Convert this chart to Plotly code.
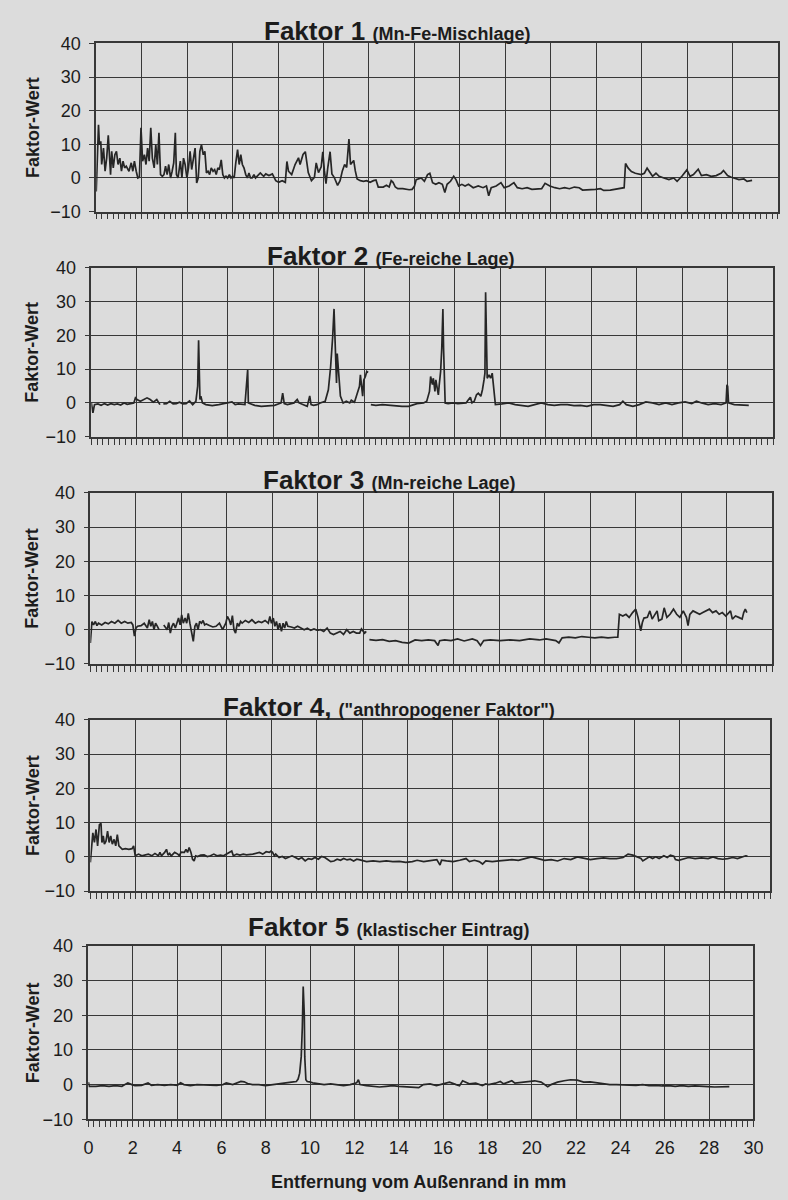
import plotly.graph_objects as go

# ---- Faktor 1 (Mn-Fe-Mischlage): distance in mm / factor score ----
f1_mm = [0.00, 0.10, 0.14, 0.20, 0.24, 0.32, 0.39, 0.46, 0.53, 0.58, 0.63, 0.68, 0.75, 0.82, 0.89, 0.96,
         1.04, 1.11, 1.18, 1.25, 1.32, 1.44, 1.54, 1.61, 1.68, 1.76, 1.83, 1.90, 1.97, 2.04, 2.12, 2.19,
         2.26, 2.33, 2.40, 2.47, 2.55, 2.62, 2.69, 2.76, 2.83, 2.91, 2.98, 3.05, 3.12, 3.19, 3.27, 3.34,
         3.41, 3.48, 3.53, 3.60, 3.70, 3.77, 3.84, 3.91, 3.99, 4.06, 4.13, 4.20, 4.27, 4.35, 4.42, 4.49,
         4.56, 4.63, 4.71, 4.78, 4.85, 4.92, 4.99, 5.06, 5.14, 5.21, 5.28, 5.35, 5.42, 5.50, 5.57, 5.64,
         5.71, 5.78, 5.86, 5.93, 6.00, 6.07, 6.14, 6.22, 6.29, 6.36, 6.43, 6.50, 6.58, 6.65, 6.72, 6.79,
         6.86, 6.94, 7.01, 7.08, 7.15, 7.22, 7.29, 7.37, 7.46, 7.60, 7.75, 7.90, 8.03, 8.18, 8.32, 8.39,
         8.46, 8.60, 8.75, 8.90, 8.97, 9.10, 9.20, 9.33, 9.47, 9.60, 9.68, 9.78, 9.90, 9.97, 10.04, 10.11,
         10.19, 10.29, 10.37, 10.47, 10.62, 10.73, 10.83, 10.93, 11.02, 11.12, 11.19, 11.26, 11.33, 11.40,
         11.48, 11.62, 11.76, 11.90, 12.05, 12.20, 12.31, 12.41, 12.63, 12.77, 12.89, 12.98, 13.06, 13.16,
         13.27, 13.49, 13.77, 13.90, 14.00, 14.08, 14.30, 14.44, 14.58, 14.68, 14.80, 14.94, 15.08, 15.23,
         15.34, 15.44, 15.59, 15.73, 15.83, 15.95, 16.09, 16.23, 16.38, 16.59, 16.81, 17.02, 17.17, 17.27,
         17.38, 17.60, 17.81, 17.95, 18.17, 18.38, 18.53, 18.74, 18.96, 19.17, 19.39, 19.60, 19.75, 19.96,
         20.18, 20.39, 20.61, 20.82, 21.04, 21.25, 21.40, 21.68, 21.97, 22.19, 22.33, 22.62, 22.90, 23.12,
         23.23, 23.29, 23.41, 23.55, 23.72, 23.98, 24.12, 24.24, 24.34, 24.48, 24.63, 24.77, 24.98, 25.20,
         25.41, 25.56, 25.77, 25.99, 26.13, 26.28, 26.49, 26.63, 26.85, 27.06, 27.28, 27.49, 27.60, 27.78,
         27.92, 28.07, 28.28, 28.50, 28.64, 28.86]
f1_wert = [-4.0, 15.8, 9.9, 10.9, 4.0, 8.9, 2.0, 5.9, 12.7, 4.0, 1.0, 7.9, 3.0, 6.9, 7.9, 4.0,
           5.9, 2.0, 5.0, 3.0, 3.5, 2.0, 4.5, 2.0, 5.0, 2.0, 0.0, 0.2, 14.9, 5.0, 6.9, 4.0,
           8.9, 5.0, 14.9, 5.9, 3.0, 9.9, 4.0, 13.4, 1.0, 0.5, 1.0, 3.5, 1.0, 4.0, 0.0, 2.0,
           4.5, 13.4, 1.0, 0.0, 5.0, 0.0, 5.9, 4.0, 0.0, 3.0, 7.9, 2.5, 5.0, 8.9, -1.5, 0.0,
           7.9, 9.9, 6.9, 7.9, 1.5, 2.0, 1.0, 3.0, 2.0, 2.5, 1.0, 3.0, 2.5, 5.4, 1.0, 0.0,
           0.5, 0.0, 1.0, 0.0, 0.5, 0.0, 4.5, 8.4, 4.0, 6.9, 4.0, 3.0, 1.0, 0.0, 1.5, 0.0,
           0.0, 1.0, 0.0, 0.5, 1.0, 1.5, 1.0, 0.5, 1.2, 0.7, 1.2, -0.8, -1.3, -0.8, -1.3, 4.9,
           2.0, 1.0, 4.0, 6.0, 4.0, 7.0, 7.8, 1.6, -0.8, 0.2, 4.5, 1.6, 3.3, 7.8, 2.1, -1.7,
           3.1, 7.8, 1.2, 0.2, -2.2, -0.8, 2.1, 4.0, 3.1, 11.6, 4.0, 4.5, 5.2, 2.1,
           -0.3, -0.8, -1.0, -0.8, -1.3, -0.8, -0.6, -2.7, -2.7, -2.2, -2.7, -0.8, -1.3, -2.7,
           -3.2, -3.2, -3.5, -3.4, -2.5, -0.5, 0.0, -1.0, 1.0, 1.4, -1.4, -1.9, -1.4, -1.9,
           -4.3, -1.9, -1.0, 0.5, -0.5, -2.4, -1.9, -2.4, -1.9, -2.9, -2.4, -2.9, -2.4, -5.3,
           -2.9, -2.4, -1.4, -2.9, -2.4, -1.4, -2.9, -3.2, -2.9, -3.4, -3.4, -3.2, -1.6, -2.4,
           -2.9, -3.2, -2.9, -3.2, -2.7, -2.9, -3.6, -3.6, -3.4, -3.2, -3.7, -3.6, -3.2, -3.0,
           -2.9, 4.3, 2.9, 1.9, 1.4, 1.0, 1.4, 2.9, 1.9, 0.5, 1.4, 0.5, 0.0, -0.5,
           0.0, -1.0, 0.5, 2.4, 0.5, 1.0, 2.6, 0.7, 1.0, 0.5, 0.7, 1.4, 2.2, 0.7,
           0.3, 0.0, -0.5, -0.3, -1.0, -0.7]

# ---- Faktor 2 (Fe-reiche Lage) ----
f2_mm = [0.00, 0.07, 0.14, 0.29, 0.43, 0.58, 0.72, 0.86, 1.01, 1.15, 1.29, 1.44, 1.58, 1.73, 1.87, 1.94,
         2.01, 2.16, 2.30, 2.45, 2.59, 2.73, 2.88, 3.02, 3.10, 3.17, 3.31, 3.45, 3.60, 3.74, 3.88, 4.03,
         4.17, 4.32, 4.46, 4.60, 4.68, 4.72, 4.78, 4.82, 4.89, 5.04, 5.32, 5.61, 5.90, 6.19, 6.33, 6.47,
         6.76, 6.83, 6.88, 6.91, 7.19, 7.48, 7.77, 8.06, 8.35, 8.42, 8.49, 8.63, 8.92, 9.06, 9.14, 9.35,
         9.50, 9.61, 9.67, 9.78, 9.93, 10.07, 10.29, 10.43, 10.53, 10.62, 10.68, 10.72, 10.76, 10.79, 10.82,
         10.86, 10.91, 10.96, 11.08, 11.22, 11.37, 11.44, 11.58, 11.65, 11.80, 11.84, 11.90, 11.94, 11.99,
         12.06, 12.12, 12.18, 12.24, 12.30, 12.52, 12.81, 13.09, 13.38, 13.67, 13.96, 14.33, 14.62, 14.76,
         14.88, 14.93, 15.01, 15.05, 15.12, 15.16, 15.22, 15.27, 15.31, 15.37, 15.42, 15.47, 15.50, 15.54,
         15.57, 15.70, 15.91, 16.13, 16.34, 16.49, 16.60, 16.68, 16.75, 16.85, 16.95, 17.03, 17.14, 17.21,
         17.28, 17.32, 17.35, 17.39, 17.42, 17.50, 17.57, 17.64, 17.68, 17.74, 17.78, 18.07, 18.36, 18.65,
         18.93, 19.22, 19.51, 19.80, 20.09, 20.37, 20.66, 20.95, 21.24, 21.52, 21.81, 22.10, 22.39, 22.68,
         22.96, 23.25, 23.39, 23.54, 23.83, 24.11, 24.26, 24.40, 24.69, 24.98, 25.27, 25.55, 25.84, 26.13,
         26.42, 26.63, 26.85, 27.14, 27.42, 27.71, 27.93, 27.97, 28.00, 28.04, 28.29, 28.57, 28.93]
f2_wert = [0.0, -2.9, -0.5, -0.3, -0.7, -0.2, -0.6, -0.2, -0.5, -0.3, -0.6, 0.0, -0.4, -0.2, 0.0, 1.5,
           1.0, 0.5, 1.0, 1.5, 1.0, 0.2, 1.0, -0.5, None, -0.3, -0.2, 0.5, -0.3, -0.2, 0.2, -0.3,
           -0.2, 0.6, -0.5, 0.5, 5.0, 18.5, 1.0, 2.0, 0.0, -0.5, -0.8, -0.5, 0.0, 0.3, -0.5, -0.3,
           -0.5, 5.8, 9.8, 0.0, -0.7, -1.0, -0.8, -0.7, 0.0, 2.9, -0.2, -0.5, 0.0, 1.0, 0.0, -0.5,
           -1.0, 2.1, -0.5, -0.7, -0.5, 0.0, 0.5, 3.9, 10.7, 19.5, 27.8, 19.5, 8.8, 5.9, 14.6,
           10.7, 6.8, 2.0, 0.0, 0.5, 0.0, 0.8, 0.2, 1.5, 4.9, 8.3, 4.9, 2.0, 6.8,
           7.8, 9.3, 9.0, None, -0.5, -0.7, -0.5, -0.7, -1.0, -1.0, -1.0, -0.2, 0.0, 0.5,
           3.4, 7.8, 5.4, 7.3, 3.4, 6.8, 4.4, 2.4, 5.4, 9.3, 16.1, 27.8, 16.1, 4.4,
           0.0, -0.2, 0.0, -0.2, -0.2, 0.0, 1.0, 1.7, 0.0, 0.5, 2.4, 2.9, 2.0, 3.9,
           6.8, 8.8, 32.7, 19.0, 7.3, 8.3, 7.3, 8.8, 6.3, 1.5, -0.5, -0.3, 0.0, -0.5,
           -0.7, -1.0, -0.5, 0.0, -0.5, -0.7, -0.5, -0.5, -0.8, -0.7, -1.0, -0.5, -0.5, -0.7,
           -1.0, -0.5, 0.5, -0.5, -1.0, -0.5, -0.2, 0.3, 0.0, -0.5, 0.0, -0.5, 0.0, 0.3,
           -0.2, 0.5, 0.0, -0.5, -0.2, -0.5, 0.0, 5.4, 4.9, 0.0, -0.5, -0.5, -0.7]

# ---- Faktor 3 (Mn-reiche Lage) ----
f3_mm = [0.00, 0.07, 0.14, 0.22, 0.29, 0.36, 0.50, 0.65, 0.79, 0.93, 1.08, 1.22, 1.36, 1.51, 1.65, 1.80,
         1.87, 1.94, 2.01, 2.08, 2.23, 2.37, 2.51, 2.59, 2.66, 2.73, 2.80, 2.87, 2.95, 3.02, 3.12, 3.23,
         3.38, 3.45, 3.52, 3.59, 3.66, 3.74, 3.81, 3.88, 3.95, 4.02, 4.09, 4.17, 4.24, 4.31, 4.38, 4.45,
         4.53, 4.60, 4.67, 4.74, 4.81, 4.89, 4.96, 5.03, 5.10, 5.24, 5.39, 5.53, 5.68, 5.82, 5.96, 6.03,
         6.11, 6.18, 6.25, 6.32, 6.39, 6.47, 6.54, 6.61, 6.68, 6.82, 6.97, 7.11, 7.26, 7.40, 7.54, 7.69,
         7.83, 7.90, 7.97, 8.05, 8.12, 8.19, 8.26, 8.33, 8.41, 8.48, 8.55, 8.62, 8.69, 8.84, 8.98, 9.12,
         9.27, 9.41, 9.55, 9.70, 9.84, 9.99, 10.13, 10.27, 10.42, 10.56, 10.70, 10.85, 10.99, 11.14, 11.28,
         11.42, 11.57, 11.71, 11.85, 11.93, 12.00, 12.07, 12.14, 12.21, 12.28, 12.57, 12.86, 13.15, 13.43,
         13.72, 14.01, 14.29, 14.58, 14.87, 15.15, 15.30, 15.37, 15.59, 15.87, 16.16, 16.45, 16.59, 16.81,
         17.02, 17.17, 17.31, 17.60, 18.03, 18.46, 18.89, 19.33, 19.76, 20.05, 20.48, 20.62, 20.76, 21.05,
         21.34, 21.63, 21.92, 22.20, 22.49, 22.78, 23.07, 23.21, 23.28, 23.43, 23.57, 23.71, 23.86, 24.00,
         24.10, 24.22, 24.29, 24.36, 24.51, 24.62, 24.72, 24.79, 24.94, 25.01, 25.15, 25.25, 25.37, 25.51,
         25.66, 25.80, 25.94, 26.09, 26.23, 26.30, 26.38, 26.52, 26.66, 26.81, 26.95, 27.10, 27.24, 27.38,
         27.53, 27.67, 27.81, 27.96, 28.10, 28.17, 28.25, 28.39, 28.53, 28.68, 28.75, 28.82, 28.89]
f3_wert = [-3.9, 2.4, 1.4, 2.4, 1.2, 1.9, 1.4, 2.1, 1.7, 2.4, 1.9, 2.7, 1.9, 2.4, 1.9, 2.1,
           1.4, -1.9, 0.5, 1.0, 1.2, 1.9, 0.5, 2.9, 1.0, 2.4, 0.0, 1.9, 1.0, 0.0, None, 1.4,
           0.0, 2.1, -1.0, 1.0, 1.9, 0.5, 2.4, 3.4, 1.4, 4.3, 1.9, 3.4, 1.9, 4.8, 1.9, -1.0,
           -3.4, 1.0, 1.9, 0.0, 2.4, 1.9, 2.7, 1.4, 1.7, 1.2, 0.8, 1.0, 1.9, 0.0, 1.9, 3.9,
           2.9, 1.4, 4.1, 0.0, -1.0, 1.9, 1.0, 2.4, 1.9, 2.7, 2.1, 2.9, 1.9, 2.4, 2.1, 2.7,
           1.9, 3.9, 1.9, 3.4, 1.0, 2.4, 0.0, 1.9, -0.5, 1.9, 0.5, 2.4, 1.0, 0.8, 0.5, 1.0,
           0.5, 0.0, 0.4, -0.2, 0.2, -0.2, 0.0, -0.5, 0.5, -1.0, -1.4, -1.0, -0.5, -1.4, 0.0,
           -1.0, -0.5, -1.0, -1.0, 0.2, -0.5, -1.0, -0.5, None, -2.9, -3.1, -2.9, -3.4, -3.2,
           -3.7, -3.9, -3.0, -3.2, -3.0, -3.2, -4.6, -3.2, -3.0, -3.2, -2.7, -3.3, -3.0, -2.7,
           -3.2, -4.6, -3.2, -3.0, -3.2, -3.0, -3.2, -2.7, -3.0, -2.7, -3.2, -3.9, -2.4, -2.2,
           -2.4, -2.0, -2.2, -2.4, -2.2, -2.4, -2.2, -2.2, 4.5, 4.0, 4.5, 3.6, 5.0, 6.0,
           3.6, -0.3, 2.1, 3.4, 3.6, 5.5, 3.1, 4.0, 5.5, 2.6, 3.1, 6.4, 3.6, 4.5,
           6.0, 4.5, 3.6, 5.5, 3.6, 1.2, 4.5, 5.5, 5.0, 4.5, 5.0, 5.5, 6.0, 5.0,
           5.5, 4.5, 5.0, 4.0, 5.0, 5.5, 3.1, 4.0, 3.6, 3.1, 5.0, 6.0, 5.0]

# ---- Faktor 4 ("anthropogener Faktor") ----
f4_mm = [0.00, 0.04, 0.11, 0.18, 0.25, 0.32, 0.40, 0.47, 0.51, 0.57, 0.62, 0.69, 0.76, 0.83, 0.90, 0.97,
         1.05, 1.12, 1.19, 1.26, 1.33, 1.41, 1.55, 1.70, 1.84, 1.91, 1.98, 2.13, 2.27, 2.42, 2.56, 2.71,
         2.85, 3.00, 3.07, 3.14, 3.28, 3.36, 3.43, 3.50, 3.57, 3.72, 3.86, 3.93, 4.00, 4.15, 4.22, 4.29,
         4.36, 4.44, 4.51, 4.58, 4.65, 4.73, 4.87, 5.02, 5.16, 5.30, 5.45, 5.59, 5.74, 5.88, 6.03, 6.17,
         6.24, 6.31, 6.46, 6.60, 6.75, 6.89, 7.17, 7.46, 7.61, 7.76, 7.90, 7.97, 8.04, 8.12, 8.18, 8.33,
         8.47, 8.61, 8.76, 8.90, 9.05, 9.19, 9.33, 9.48, 9.62, 9.77, 9.91, 10.06, 10.20, 10.35, 10.46,
         10.61, 10.75, 10.89, 11.04, 11.18, 11.33, 11.47, 11.62, 11.76, 11.90, 12.05, 12.19, 12.48, 12.77,
         13.06, 13.35, 13.64, 13.92, 14.21, 14.42, 14.71, 15.00, 15.29, 15.43, 15.50, 15.72, 16.01, 16.30,
         16.58, 16.73, 16.95, 17.16, 17.31, 17.45, 17.74, 18.03, 18.32, 18.60, 18.89, 19.18, 19.47, 19.76,
         20.05, 20.34, 20.62, 20.91, 21.20, 21.49, 21.78, 22.07, 22.36, 22.65, 22.93, 23.22, 23.51, 23.73,
         23.94, 24.16, 24.30, 24.38, 24.52, 24.67, 24.81, 24.95, 25.10, 25.31, 25.46, 25.60, 25.75, 25.82,
         25.96, 26.18, 26.40, 26.69, 26.97, 27.26, 27.48, 27.70, 27.91, 28.13, 28.35, 28.56, 28.71, 28.92,
         29.00]
f4_wert = [-1.6, 2.2, 7.0, 4.2, 8.0, 3.2, 9.4, 9.8, 4.2, 6.1, 3.7, 4.6, 7.5, 4.2, 6.1, 3.7,
           5.1, 3.2, 6.5, 3.2, 2.7, 2.2, 2.4, 2.2, 2.4, 3.2, 0.3, 0.8, 0.3, 0.6, 0.8, 0.3,
           1.0, 0.3, 1.3, 0.3, 1.3, 2.2, 0.5, 1.0, 0.3, 1.3, 0.8, 0.3, 1.4, 1.3, 2.2, 1.3,
           2.7, 1.3, -0.7, -1.2, 0.3, 0.1, 0.5, 0.6, 0.1, 0.3, 0.8, 0.3, 0.5, 0.3, 0.8, 1.3,
           1.7, 0.3, 0.8, 0.5, 0.8, 0.6, 0.8, 1.3, 0.8, 1.5, 1.3, 1.7, 1.3, 0.3, 0.8, -0.2,
           0.1, -0.5, -0.2, 0.3, -0.2, -0.7, -0.2, -1.2, -0.5, -0.7, -0.2, -0.7, 0.1, -0.2, -0.7,
           -1.4, -1.2, -0.7, -1.0, -0.5, -0.9, -0.7, -1.2, -0.7, -0.9, -1.2, -1.4, -1.2, -1.4,
           -1.2, -1.4, -1.3, -1.6, -1.4, -1.0, -1.4, -1.2, -0.8, -2.4, -1.0, -1.2, -1.4, -1.0,
           -0.5, -1.4, -1.0, -1.4, -2.1, -1.2, -1.4, -1.2, -1.0, -0.8, -1.0, -0.5, 0.0, -0.5,
           -1.0, -0.8, -1.2, -0.5, -0.8, 0.0, -0.5, -0.8, -0.5, -0.3, -0.5, -0.5, -0.2, 0.8,
           0.5, 0.0, -0.5, -1.2, -0.5, 0.0, -0.5, 0.0, -0.5, 0.3, -0.2, 0.5, 0.2, -0.8,
           -1.0, -0.5, -0.2, -0.5, -0.3, -0.5, 0.0, -0.5, -0.7, -0.5, -0.2, -0.5, -0.2, 0.3,
           0.2]

# ---- Faktor 5 (klastischer Eintrag) ----
f5_mm = [0.00, 0.04, 0.34, 0.63, 0.93, 1.22, 1.51, 1.66, 1.78, 1.96, 2.10, 2.40, 2.62, 2.69, 2.84, 3.13,
         3.43, 3.72, 4.01, 4.16, 4.31, 4.60, 4.90, 5.19, 5.49, 5.78, 6.07, 6.22, 6.51, 6.81, 6.88, 7.03,
         7.18, 7.40, 7.69, 7.99, 8.28, 8.57, 8.87, 9.16, 9.38, 9.46, 9.53, 9.60, 9.65, 9.69, 9.74, 9.76,
         9.81, 9.87, 9.97, 10.12, 10.34, 10.63, 10.93, 11.22, 11.51, 11.81, 12.10, 12.18, 12.25, 12.54,
         12.84, 13.13, 13.43, 13.72, 14.01, 14.31, 14.60, 14.90, 15.11, 15.41, 15.70, 16.00, 16.29, 16.59,
         16.74, 16.88, 17.03, 17.18, 17.47, 17.77, 17.92, 18.06, 18.36, 18.58, 18.73, 18.95, 19.10, 19.24,
         19.54, 19.83, 20.13, 20.42, 20.72, 20.87, 21.16, 21.46, 21.75, 22.05, 22.34, 22.64, 22.93, 23.23,
         23.52, 23.82, 24.11, 24.41, 24.70, 25.00, 25.29, 25.59, 25.88, 26.18, 26.47, 26.77, 27.06, 27.36,
         27.65, 27.95, 28.24, 28.54, 28.91]
f5_wert = [0.7, -0.5, -0.5, -0.3, -0.5, -0.3, -0.5, 0.0, 0.5, 0.0, -0.3, -0.2, 0.3, 0.5, -0.2, 0.0,
           -0.2, 0.0, -0.2, 0.5, 0.0, -0.3, 0.0, -0.1, 0.0, -0.2, 0.0, 0.5, 0.0, 0.7, 0.9, 0.8,
           0.3, 0.0, 0.0, -0.3, 0.0, 0.3, 0.5, 0.7, 0.9, 1.6, 3.3, 8.0, 16.5, 28.3, 20.0, 8.0,
           1.4, 0.9, 0.8, 0.5, 0.3, 0.0, 0.2, 0.0, -0.3, 0.0, 0.5, 1.4, 0.0, -0.3,
           -0.5, -0.7, -0.5, -0.3, -0.5, -0.7, -0.9, -0.9, 0.0, 0.2, -0.3, 0.2, 0.7, 0.0,
           -0.3, 1.1, 0.7, 0.2, 0.4, -0.3, 0.2, 0.0, 0.4, 0.9, 0.2, 0.7, 1.1, 0.4,
           0.7, 0.9, 1.1, 0.7, -0.6, 0.0, 0.7, 1.1, 1.4, 1.3, 0.7, 0.8, 0.5, 0.4,
           0.0, 0.0, -0.1, 0.0, -0.2, 0.0, -0.3, -0.2, -0.4, -0.3, -0.5, -0.3, -0.5, -0.4,
           -0.6, -0.6, -0.7, -0.6, -0.6]

titles = [
    ("Faktor 1", "(Mn-Fe-Mischlage)"),
    ("Faktor 2", "(Fe-reiche Lage)"),
    ("Faktor 3", "(Mn-reiche Lage)"),
    ("Faktor 4,", "(\"anthropogener Faktor\")"),
    ("Faktor 5", "(klastischer Eintrag)"),
]
series = [(f1_mm, f1_wert), (f2_mm, f2_wert), (f3_mm, f3_wert), (f4_mm, f4_wert), (f5_mm, f5_wert)]
x_ticks = list(range(0, 31, 2))
y_ticks = [-10, 0, 10, 20, 30, 40]

W, H = 788, 1200
BG = "#dcdcdc"
INK = "#262626"
GRID = "#383838"
TXT = "#1c1c1c"
FONT = "Liberation Sans, Arial, sans-serif"

# panel frames in pixels: (left, right, top, bottom)
frames = [(93, 790, 34, 205), (88, 783, 262, 434), (87, 782, 491, 665),
          (87, 780, 722, 896), (85, 763, 952, 1128)]
title_cx = [400, 393, 391, 391, 391]
title_bottom = [39, 267, 495, 726, 950]

fig = go.Figure()
layout = dict(
    width=W, height=H, margin=dict(l=0, r=0, t=0, b=0),
    paper_bgcolor=BG, plot_bgcolor=BG, showlegend=False,
    font=dict(family=FONT, color=TXT),
)
annotations = []
for i, ((mm, wert), (l, r, t, b)) in enumerate(zip(series, frames)):
    n = i + 1
    xa = "x" if n == 1 else f"x{n}"
    ya = "y" if n == 1 else f"y{n}"
    fig.add_trace(go.Scatter(x=mm, y=wert, mode="lines", xaxis=xa, yaxis=ya,
                             line=dict(color=INK, width=1.7), connectgaps=False,
                             hoverinfo="skip"))
    layout[f"xaxis{'' if n == 1 else n}"] = dict(
        domain=[l / W, min(r / W, 1.0)], range=[0, 30], anchor=ya,
        tickvals=x_ticks, ticktext=[str(v) for v in x_ticks],
        showticklabels=(n == 5), showgrid=True, gridcolor=GRID, gridwidth=1.2,
        showline=True, linecolor=GRID, linewidth=1.6, mirror=True,
        ticks="outside", ticklen=6, tickwidth=1.2, tickcolor=GRID,
        minor=dict(dtick=0.25, ticks="outside", ticklen=6, tickwidth=1.1,
                   tickcolor=GRID, showgrid=False),
        zeroline=False, fixedrange=True, ticklabelstandoff=5,
        tickfont=dict(family=FONT, size=18, color=TXT),
    )
    layout[f"yaxis{'' if n == 1 else n}"] = dict(
        domain=[1 - b / H, 1 - t / H], range=[-10, 40], anchor=xa,
        tickvals=y_ticks, showgrid=True, gridcolor=GRID, gridwidth=1.2,
        showline=True, linecolor=GRID, linewidth=1.6, mirror=True,
        ticks="outside", ticklen=5, tickwidth=1.2, tickcolor=GRID,
        zeroline=False, fixedrange=True, ticklabelstandoff=5,
        tickfont=dict(family=FONT, size=18, color=TXT),
    )
    big, small = titles[i]
    annotations.append(dict(
        xref="paper", yref="paper", x=title_cx[i] / W, y=1 - title_bottom[i] / H,
        xanchor="center", yanchor="bottom", showarrow=False,
        text=f"<b>{big}</b> <b><span style='font-size:18px'>{small}</span></b>",
        font=dict(family=FONT, size=26, color=TXT),
    ))
    annotations.append(dict(
        xref="paper", yref="paper", x=28 / W, y=1 - (t + b) / 2 / H,
        xanchor="center", yanchor="middle", showarrow=False, textangle=-90,
        text="<b>Faktor-Wert</b>", font=dict(family=FONT, size=18, color=TXT),
    ))

annotations.append(dict(
    xref="paper", yref="paper", x=422 / W, y=1 - 1192 / H,
    xanchor="center", yanchor="middle", showarrow=False,
    text="<b>Entfernung vom Außenrand in mm</b>",
    font=dict(family=FONT, size=18, color=TXT),
))
layout["annotations"] = annotations
fig.update_layout(**layout)
fig.write_html("out.html")
